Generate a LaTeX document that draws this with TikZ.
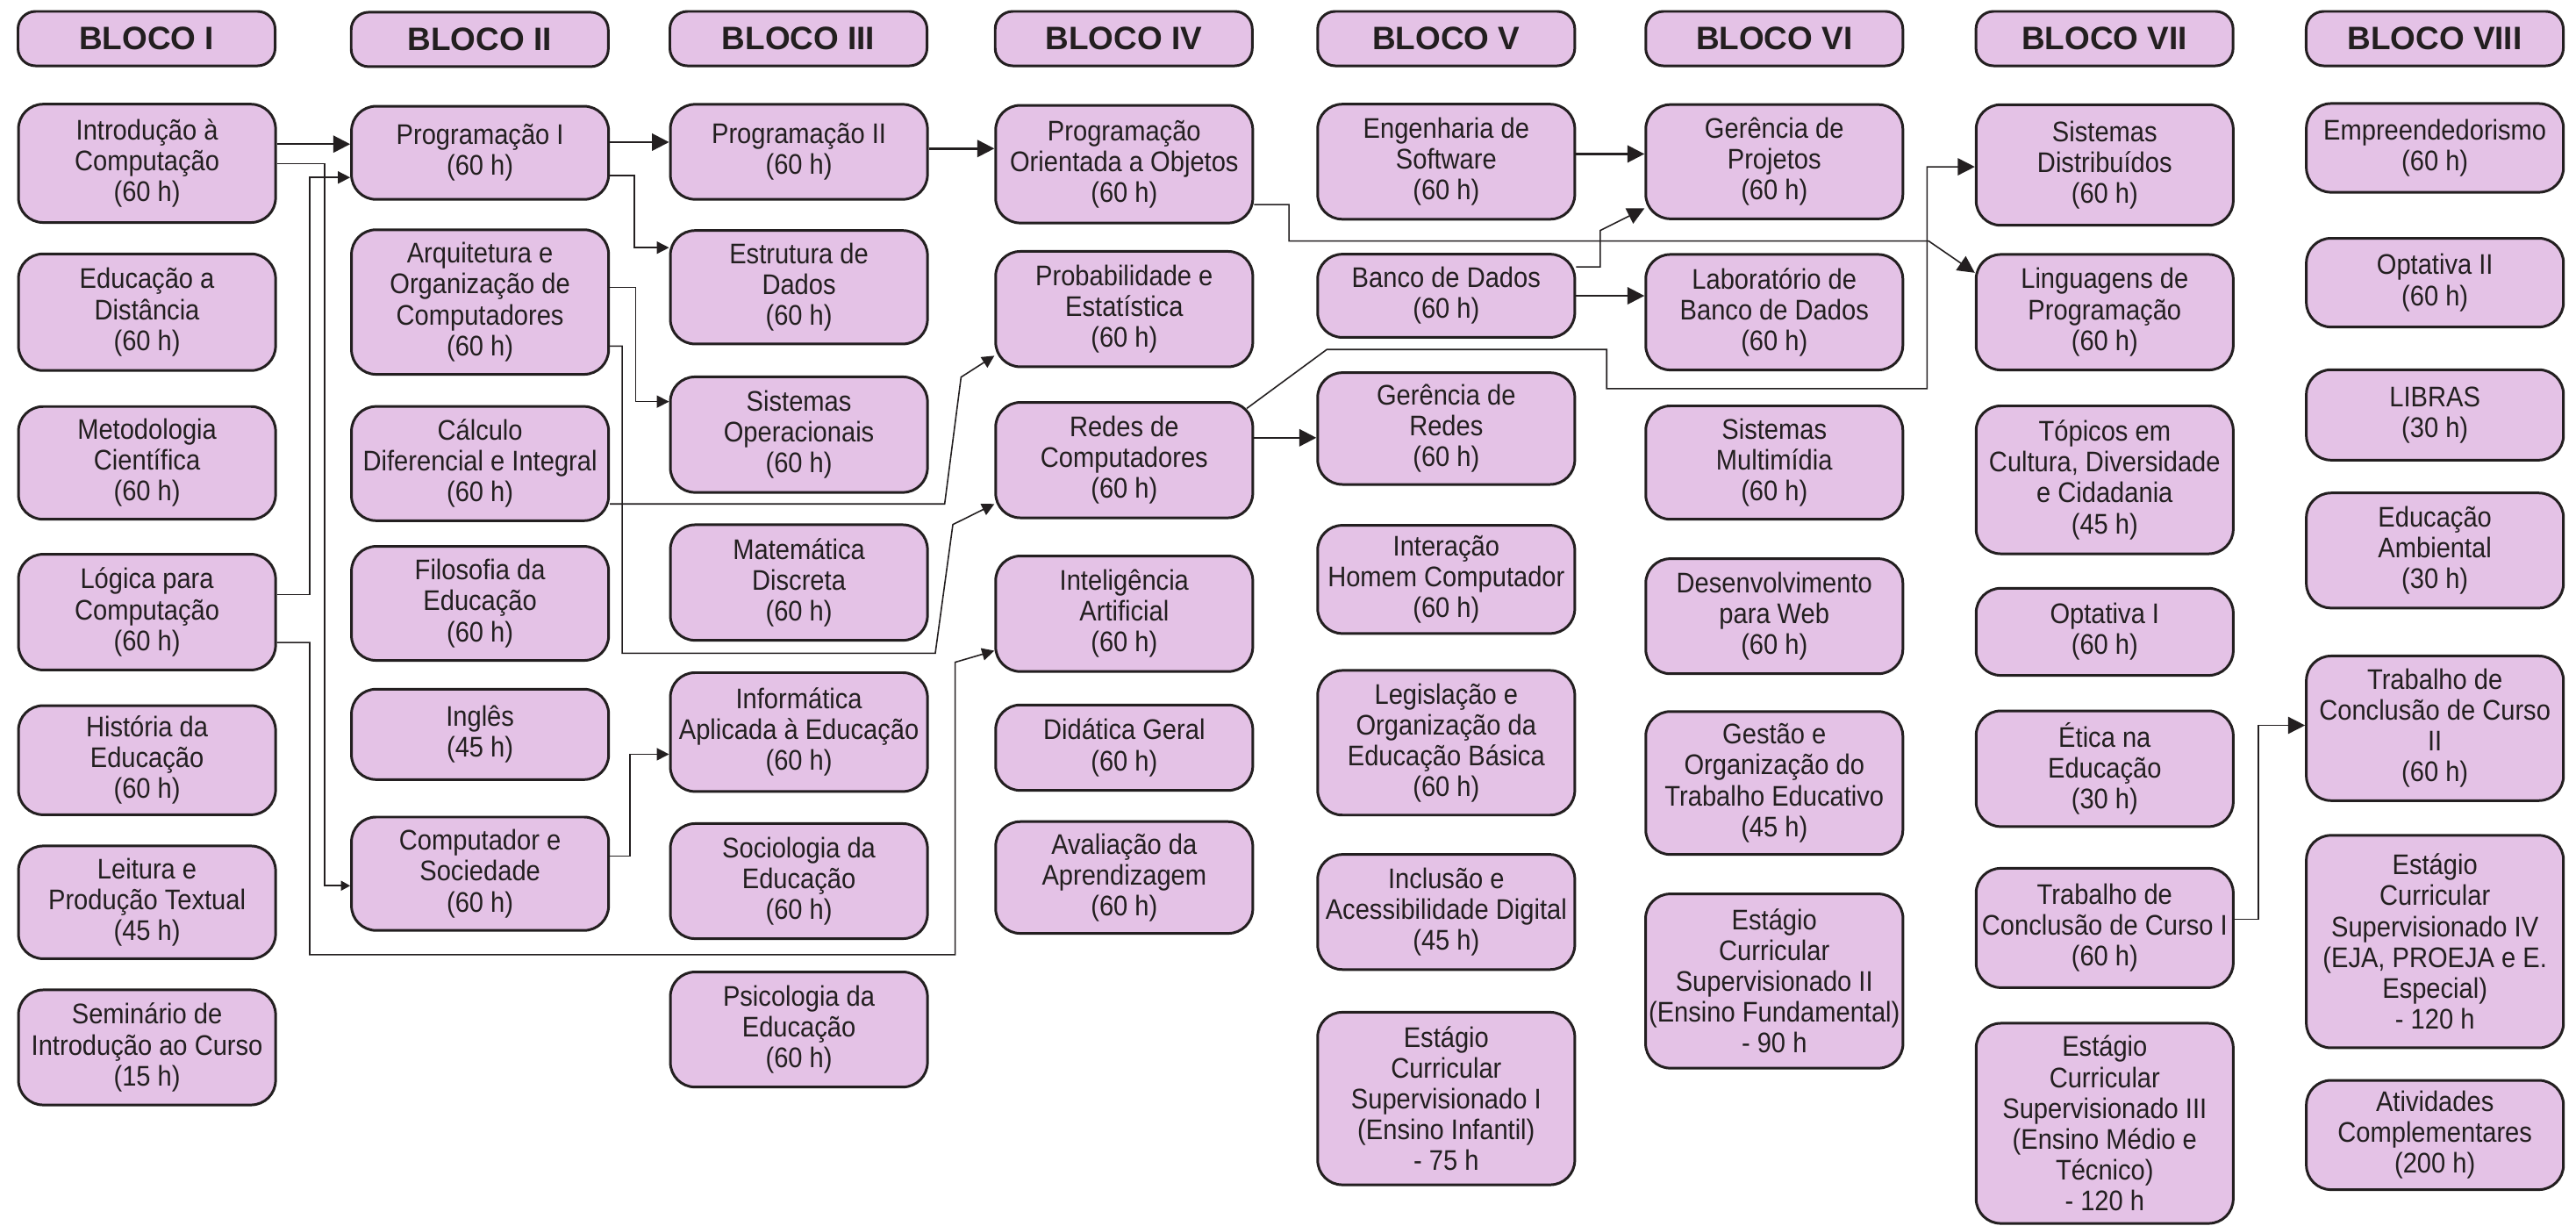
\documentclass[tikz,border=0pt]{standalone}
\usepackage{fontspec}
\setmainfont{Liberation Sans}[FakeStretch=0.9]
\newfontfamily\hdrfont{Liberation Sans}
\usetikzlibrary{arrows.meta,calc}
\definecolor{boxfill}{RGB}{228,194,230}
\definecolor{ink}{RGB}{35,31,32}
\begin{document}
\begin{tikzpicture}[x=0.0187245cm,y=-0.0187245cm,
  course/.style={draw=ink, line width=0.85pt, fill=boxfill, rounded corners=0.28cm,
    minimum width=2.93cm, inner xsep=1pt, inner ysep=1pt, align=center,
    font=\fontsize{9.2}{10}\selectfont, text=ink},
  ht/.style={minimum height=#1*0.0187245cm},
  hdr/.style={course, rounded corners=0.2cm, minimum height=0.62cm,
    font=\hdrfont\bfseries\fontsize{10.5}{12}\selectfont},
  conn/.style={draw=ink, line width=0.45pt},
  thickconn/.style={draw=ink, line width=0.7pt},
  arrbig/.style={-{Triangle[length=5.5pt,width=5.5pt]}},
  arrmid/.style={-{Triangle[length=4pt,width=4pt]}},
  arrsmall/.style={-{Triangle[length=3pt,width=3.2pt]}}
]
\fill[white] (0,0) rectangle (1568,745.55);
\useasboundingbox (0,0) rectangle (1568,745.55);

% headers
\node[hdr] (b1) at (89.2,23.5) {BLOCO I};
\node[hdr] (b2) at (292,24) {BLOCO II};
\node[hdr] (b3) at (486,23.5) {BLOCO III};
\node[hdr] (b4) at (684,23.5) {BLOCO IV};
\node[hdr] (b5) at (880.3,23.5) {BLOCO V};
\node[hdr] (b6) at (1080,23.5) {BLOCO VI};
\node[hdr] (b7) at (1281,23.5) {BLOCO VII};
\node[hdr] (b8) at (1482,23.5) {BLOCO VIII};

% Bloco I
\node[course, ht=72] (intro) at (89.5,99.4) {Introdução à\\Computação\\(60 h)};
\node[course, ht=71] (ead) at (89.5,190) {Educação a\\Distância\\(60 h)};
\node[course, ht=68.6] (metod) at (89.5,281.7) {Metodologia\\Científica\\(60 h)};
\node[course, ht=70.4] (logica) at (89.5,372.5) {Lógica para\\Computação\\(60 h)};
\node[course, ht=66.4] (hist) at (89.5,462.6) {História da\\Educação\\(60 h)};
\node[course, ht=68.6] (leit) at (89.5,549.1) {Leitura e\\Produção Textual\\(45 h)};
\node[course, ht=70] (semin) at (89.5,637.4) {Seminário de\\Introdução ao Curso\\(15 h)};

% Bloco II
\node[course, ht=56.7] (progI) at (292.2,93) {Programação I\\(60 h)};
\node[course, ht=88] (arq) at (292.2,183.8) {Arquitetura e\\Organização de\\Computadores\\(60 h)};
\node[course, ht=69.5] (calc) at (292.2,282.1) {Cálculo\\Diferencial e Integral\\(60 h)};
\node[course, ht=69.4] (filo) at (292.2,367.2) {Filosofia da\\Educação\\(60 h)};
\node[course, ht=55] (ingles) at (292.2,446.9) {Inglês\\(45 h)};
\node[course, ht=69] (compsoc) at (292.2,531.7) {Computador e\\Sociedade\\(60 h)};

% Bloco III
\node[course, ht=57.8] (progII) at (486.3,92.4) {Programação II\\(60 h)};
\node[course, ht=69] (ed) at (486.3,174.8) {Estrutura de\\Dados\\(60 h)};
\node[course, ht=70.3] (so) at (486.3,264.5) {Sistemas\\Operacionais\\(60 h)};
\node[course, ht=70.3] (md) at (486.3,354.5) {Matemática\\Discreta\\(60 h)};
\node[course, ht=72.3] (info) at (486.3,445.5) {Informática\\Aplicada à Educação\\(60 h)};
\node[course, ht=70] (socio) at (486.3,536.2) {Sociologia da\\Educação\\(60 h)};
\node[course, ht=70] (psico) at (486.3,626.5) {Psicologia da\\Educação\\(60 h)};

% Bloco IV
\node[course, ht=71.6] (poo) at (684.3,99.9) {Programação\\Orientada a Objetos\\(60 h)};
\node[course, ht=70.2] (prob) at (684.3,188.1) {Probabilidade e\\Estatística\\(60 h)};
\node[course, ht=70.2] (redes) at (684.3,280) {Redes de\\Computadores\\(60 h)};
\node[course, ht=70.3] (ia) at (684.3,373.5) {Inteligência\\Artificial\\(60 h)};
\node[course, ht=52] (didat) at (684.3,455) {Didática Geral\\(60 h)};
\node[course, ht=68] (aval) at (684.3,534) {Avaliação da\\Aprendizagem\\(60 h)};

% Bloco V
\node[course, ht=70] (eng) at (880.3,98.4) {Engenharia de\\Software\\(60 h)};
\node[course, ht=50.6] (bd) at (880.3,180) {Banco de Dados\\(60 h)};
\node[course, ht=68] (gred) at (880.3,260.8) {Gerência de\\Redes\\(60 h)};
\node[course, ht=65.8] (ihc) at (880.3,352.6) {Interação\\Homem Computador\\(60 h)};
\node[course, ht=88] (leg) at (880.3,452) {Legislação e\\Organização da\\Educação Básica\\(60 h)};
\node[course, ht=70] (incl) at (880.3,555) {Inclusão e\\Acessibilidade Digital\\(45 h)};
\node[course, ht=105] (est1) at (880.3,668.5) {Estágio\\Curricular\\Supervisionado I\\(Ensino Infantil)\\- 75 h};

% Bloco VI
\node[course, ht=69.5] (gp) at (1080,98.4) {Gerência de\\Projetos\\(60 h)};
\node[course, ht=70.3] (lbd) at (1080,190) {Laboratório de\\Banco de Dados\\(60 h)};
\node[course, ht=69] (smult) at (1080,281.5) {Sistemas\\Multimídia\\(60 h)};
\node[course, ht=70] (dweb) at (1080,375) {Desenvolvimento\\para Web\\(60 h)};
\node[course, ht=87] (gestao) at (1080,476.5) {Gestão e\\Organização do\\Trabalho Educativo\\(45 h)};
\node[course, ht=106] (est2) at (1080,597) {Estágio\\Curricular\\Supervisionado II\\(Ensino Fundamental)\\- 90 h};

% Bloco VII
\node[course, ht=73.4] (sd) at (1281.1,100.4) {Sistemas\\Distribuídos\\(60 h)};
\node[course, ht=70.3] (ling) at (1281.1,190) {Linguagens de\\Programação\\(60 h)};
\node[course, ht=90] (topicos) at (1281.1,292) {Tópicos em\\Cultura, Diversidade\\e Cidadania\\(45 h)};
\node[course, ht=53] (opt1) at (1281.1,384.5) {Optativa I\\(60 h)};
\node[course, ht=70.4] (etica) at (1281.1,467.8) {Ética na\\Educação\\(30 h)};
\node[course, ht=72.6] (tcc1) at (1281.1,564.7) {Trabalho de\\Conclusão de Curso I\\(60 h)};
\node[course, ht=121.8] (est3) at (1281.1,683.6) {Estágio\\Curricular\\Supervisionado III\\(Ensino Médio e\\Técnico)\\- 120 h};

% Bloco VIII
\node[course, ht=54] (empr) at (1482.1,90) {Empreendedorismo\\(60 h)};
\node[course, ht=54] (opt2) at (1482.1,172) {Optativa II\\(60 h)};
\node[course, ht=55] (libras) at (1482.1,252.5) {LIBRAS\\(30 h)};
\node[course, ht=70] (eamb) at (1482.1,335) {Educação\\Ambiental\\(30 h)};
\node[course, ht=88] (tcc2) at (1482.1,443.2) {Trabalho de\\Conclusão de Curso\\II\\(60 h)};
\node[course, ht=129.3] (est4) at (1482.1,573) {Estágio\\Curricular\\Supervisionado IV\\(EJA, PROEJA e E.\\Especial)\\- 120 h};
\node[course, ht=66.5] (ativ) at (1482.1,690.7) {Atividades\\Complementares\\(200 h)};

% connectors
\draw[thickconn, arrbig] (intro.east |- 0,87.7) -- (progI.west |- 0,87.7);
\draw[conn, arrsmall] (intro.east |- 0,99.7) -| (197.5,539) -- (compsoc.west |- 0,539);
\draw[conn, arrmid] (logica.east |- 0,361.9) -| (188.5,108) -- (progI.west |- 0,108);
\draw[conn, arrmid] (logica.east |- 0,391) -| (188.5,581) -- (581.4,581) -- (581.4,403) -- (ia.west |- 0,396);
\draw[thickconn, arrbig] (progI.east |- 0,86.5) -- (progII.west |- 0,86.5);
\draw[conn, arrmid] (progI.east |- 0,106.8) -| (386,150.7) -- (ed.west |- 0,150.7);
\draw[conn, arrmid] (arq.east |- 0,175) -| (387,244.4) -- (so.west |- 0,244.4);
\draw[conn, arrmid] (arq.east |- 0,210.6) -| (378.7,397.5) -- (569.3,397.5) -- (580,319.2) -- (redes.west |- 0,306.7);
\draw[conn, arrmid] (calc.east |- 0,306.7) -- (575,306.7) -- (585,229.5) -- (prob.west |- 0,216.5);
\draw[conn, arrmid] (compsoc.east |- 0,521) -| (383.6,459) -- (info.west |- 0,459);
\draw[thickconn, arrbig] (progII.east |- 0,90.4) -- (poo.west |- 0,90.4);
\draw[conn, arrbig] (poo.east |- 0,124.5) -| (784.6,146.7) -- (1174,146.7) -- (ling.west |- 0,166);
\draw[thickconn, arrbig] (eng.east |- 0,93.7) -- (gp.west |- 0,93.7);
\draw[conn, arrbig] (bd.east |- 0,162.4) -| (974,140.3) -- (gp.west |- 0,126.8);
\draw[thickconn, arrbig] (bd.east |- 0,180) -- (lbd.west |- 0,180);
\draw[thickconn, arrbig] (redes.east |- 0,266.4) -- (gred.west |- 0,266.4);
\draw[conn, arrbig] ($(redes.north east)+(-4.4,4.4)$) -- (807.6,212.7) -- (978,212.7) -- (978,236.5) -- (1173,236.5) -- (1173,101.5) -- (sd.west |- 0,101.5);
\draw[conn, arrbig] (tcc1.east |- 0,559.4) -| (1374.8,441.4) -- (tcc2.west |- 0,441.4);
\end{tikzpicture}
\end{document}
